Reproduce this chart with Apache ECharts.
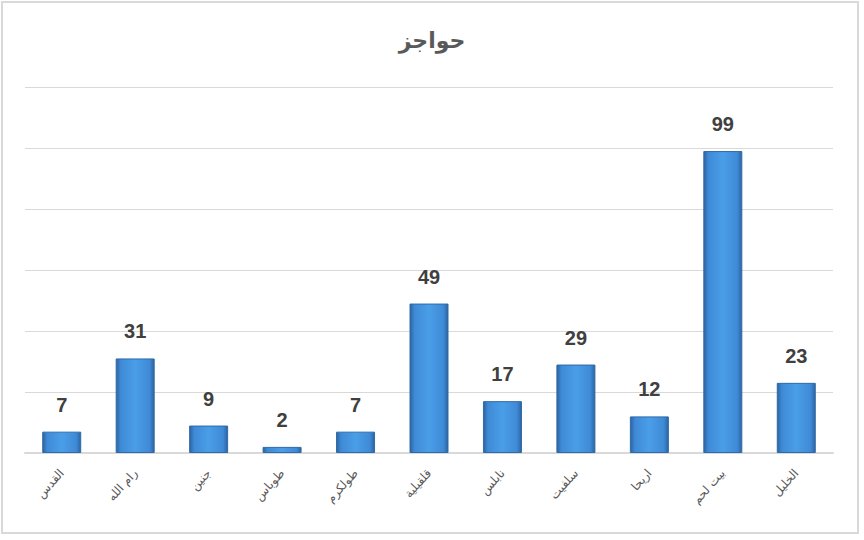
<!DOCTYPE html>
<html><head><meta charset="utf-8">
<script src="https://cdn.jsdelivr.net/npm/echarts@6/dist/echarts.min.js"></script>
<style>
html,body{margin:0;padding:0;background:#fff;}
#wrap{position:absolute;left:1px;top:1px;width:858px;height:533px;border:2px solid #d9d9d9;box-sizing:border-box;}
#c{position:absolute;left:0;top:0;width:864px;height:540px;}
</style></head>
<body>
<div id="c"></div>
<div id="wrap"></div>
<script>
const titleText = 'حواجز';
const categories = ['القدس','رام الله','جنين','طوباس','طولكرم','قلقيلية','نابلس','سلفيت','اريحا','بيت لحم','الخليل'];
const values = [7,31,9,2,7,49,17,29,12,99,23];

const chart = echarts.init(document.getElementById('c'), null, {renderer:'svg'});
chart.setOption({
  backgroundColor:'#fff',
  animation:false,
  title:{text:titleText,left:'center',top:24,textStyle:{fontFamily:'DejaVu Sans',fontSize:22,fontWeight:'bold',color:'#595959'}},
  grid:{left:25,right:31,top:87,bottom:87,containLabel:false},
  xAxis:{type:'category',data:categories,
    axisLine:{lineStyle:{color:'#d9d9d9',width:2}},axisTick:{show:false},
    axisLabel:{rotate:48,interval:0,fontSize:12,color:'#595959',fontFamily:'DejaVu Sans',margin:18}},
  yAxis:{type:'value',min:0,max:120,interval:20,axisLabel:{show:false},axisLine:{show:false},axisTick:{show:false},
    splitLine:{lineStyle:{color:'#d9d9d9',width:1}}},
  series:[{type:'bar',data:values,barWidth:39,
    itemStyle:{color:new echarts.graphic.LinearGradient(0,0,1,0,[
      {offset:0,color:'#2c64a0'},{offset:0.12,color:'#3f8ad6'},{offset:0.5,color:'#4a9ee8'},{offset:0.88,color:'#3f8ad6'},{offset:1,color:'#2c64a0'}]),
      borderColor:'#2f6aa8',borderWidth:1},
    label:{show:true,position:'top',distance:17,fontSize:20,fontWeight:'bold',color:'#404040',fontFamily:'Liberation Sans'}
  }]
});
</script>
</body></html>
